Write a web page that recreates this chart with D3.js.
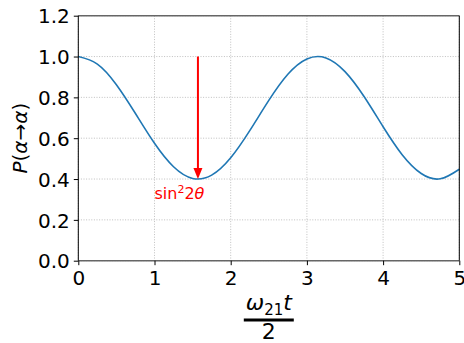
<!DOCTYPE html>
<html><head><meta charset="utf-8">
<script src="https://cdn.jsdelivr.net/npm/d3@7"></script>
<style>body{margin:0;background:#fff}svg{display:block}text{font-family:"DejaVu Sans",sans-serif}</style>
</head><body>
<svg id="c" width="464" height="343"></svg>
<script>
const xValues = [0,0.25,0.5,0.75,1.0,1.25,1.5,1.75,2.0,2.25,2.5,2.75,3.0,3.25,3.5,3.75,4.0,4.25,4.5,4.75,5.0];
const pValues = [1.0,0.963,0.862,0.721,0.575,0.460,0.403,0.419,0.504,0.637,0.785,0.913,0.988,0.993,0.926,0.804,0.656,0.519,0.427,0.401,0.448];
const xTicks = [0,1,2,3,4,5];
const yTicks = [0.0,0.2,0.4,0.6,0.8,1.0,1.2];
const arrowX = [1.57];
const arrowFrom = [1.0];
const arrowTo = [0.4];
const annotPos = [1.0, 0.3];

const svg = d3.select("#c");
const L=78.3,R=459.3,T=15.7,B=260.7;
const x = d3.scaleLinear().domain([0,5]).range([L,R]);
const y = d3.scaleLinear().domain([0,1.2]).range([B,T]);

// grid
const g = svg.append("g");
g.selectAll(".gx").data(xTicks).join("line")
 .attr("x1",d=>x(d)).attr("x2",d=>x(d)).attr("y1",T).attr("y2",B)
 .attr("stroke","#b0b0b0").attr("stroke-width",0.8).attr("stroke-dasharray","1,1.6");
g.selectAll(".gy").data(yTicks).join("line")
 .attr("y1",d=>y(d)).attr("y2",d=>y(d)).attr("x1",L).attr("x2",R)
 .attr("stroke","#b0b0b0").attr("stroke-width",0.8).attr("stroke-dasharray","1,1.6");

// curve
const line = d3.line().x((d,i)=>x(xValues[i])).y(d=>y(d)).curve(d3.curveNatural);
svg.append("path").datum(pValues).attr("d",line).attr("fill","none")
 .attr("stroke","#1f77b4").attr("stroke-width",1.6);

// arrow
const ax = x(arrowX[0]), ay0 = y(arrowFrom[0]), ay1 = y(arrowTo[0]);
svg.append("line").attr("x1",ax).attr("x2",ax).attr("y1",ay0).attr("y2",ay1-9)
 .attr("stroke","red").attr("stroke-width",2);
svg.append("path").attr("d",`M${ax-4.5},${ay1-11} L${ax+4.5},${ay1-11} L${ax},${ay1} Z`).attr("fill","red");

// annotation
const an = svg.append("text").attr("x",x(annotPos[0])).attr("y",y(annotPos[1])).attr("fill","red").attr("font-size",16);
an.append("tspan").text("sin");
an.append("tspan").attr("dy",-6).attr("font-size",11).text("2");
an.append("tspan").attr("dy",6).text("2");
an.append("tspan").attr("font-style","italic").text("θ");

// spines
svg.append("line").attr("x1",L).attr("x2",R).attr("y1",T).attr("y2",T).attr("stroke","#666").attr("stroke-width",1.5);
svg.append("line").attr("x1",L).attr("x2",R).attr("y1",B).attr("y2",B).attr("stroke","#666").attr("stroke-width",1.5);
svg.append("line").attr("x1",L).attr("x2",L).attr("y1",T).attr("y2",B).attr("stroke","#000").attr("stroke-width",1);
svg.append("line").attr("x1",R).attr("x2",R).attr("y1",T).attr("y2",B).attr("stroke","#000").attr("stroke-width",1);

// axes
const xa = svg.append("g").attr("transform",`translate(0,${B})`)
 .call(d3.axisBottom(x).tickValues(xTicks).tickFormat(d3.format("d")).tickSize(4.5).tickPadding(4));
const ya = svg.append("g").attr("transform",`translate(${L},0)`)
 .call(d3.axisLeft(y).tickValues(yTicks).tickFormat(d3.format(".1f")).tickSize(4.5).tickPadding(4));
[xa,ya].forEach(a=>{a.select(".domain").remove();a.selectAll("text").attr("font-family","DejaVu Sans").attr("font-size",20).attr("fill","#000");a.selectAll("line").attr("stroke","#000").attr("stroke-width",1);});
xa.selectAll("text").attr("dy","0.78em");
ya.selectAll("text").attr("dy","0.36em");

// y label
const yl = svg.append("text").attr("transform",`translate(27,${(T+B)/2}) rotate(-90)`).attr("text-anchor","middle").attr("font-size",20);
yl.append("tspan").attr("font-style","italic").text("P");
yl.append("tspan").text("(");
yl.append("tspan").attr("font-style","italic").text("α");
yl.append("tspan").text("→");
yl.append("tspan").attr("font-style","italic").text("α");
yl.append("tspan").text(")");

// x label fraction
const cx = (L+R)/2;
const num = svg.append("text").attr("x",cx).attr("y",310).attr("text-anchor","middle").attr("font-size",22);
num.append("tspan").attr("font-style","italic").text("ω");
num.append("tspan").attr("dy",5).attr("font-size",15).text("21");
num.append("tspan").attr("dy",-5).attr("font-style","italic").text("t");
svg.append("line").attr("x1",cx-25).attr("x2",cx+25).attr("y1",320).attr("y2",320).attr("stroke","#000").attr("stroke-width",3);
svg.append("text").attr("x",cx).attr("y",339).attr("text-anchor","middle").attr("font-size",22).text("2");
</script>
</body></html>
